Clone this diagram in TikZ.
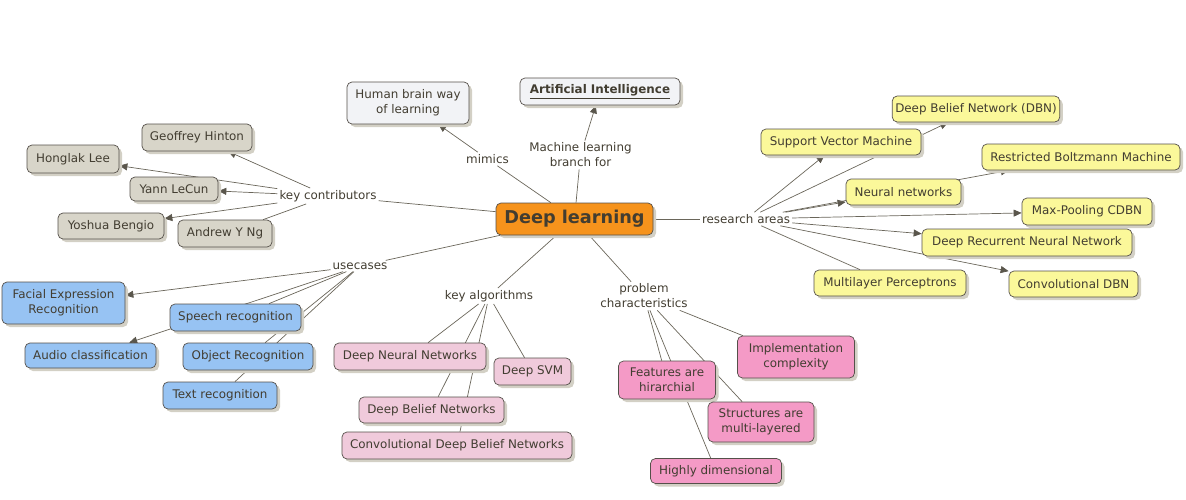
\documentclass[tikz,border=0pt]{standalone}
\usepackage{fontspec}
\setmainfont{DejaVu Sans}
\usetikzlibrary{shadows,arrows.meta,backgrounds}
\definecolor{txt}{HTML}{423D31}
\definecolor{bdr}{HTML}{55504A}
\definecolor{lnk}{HTML}{6A665A}
\definecolor{arrc}{HTML}{5A564C}
\definecolor{shd}{HTML}{D3D0C5}
\definecolor{cgray}{HTML}{D8D5C9}
\definecolor{cyel}{HTML}{FBF89A}
\definecolor{cblue}{HTML}{97C3F3}
\definecolor{cpinkl}{HTML}{F0CADB}
\definecolor{cpink}{HTML}{F49AC6}
\definecolor{corange}{HTML}{F6931C}
\definecolor{cwhite}{HTML}{F2F3F6}
\newcommand{\fsz}{\fontsize{11.9}{15}\selectfont}
\begin{document}
\begin{tikzpicture}[x=1pt,y=-1pt,
  concept/.style={rectangle, rounded corners=5pt, draw=bdr, line width=0.7pt, text=txt,
    font=\fsz, inner xsep=3pt, inner ysep=2pt, align=center,
    drop shadow={shadow xshift=3pt,shadow yshift=-3pt,fill=shd,opacity=1}},
  box/.style 2 args={concept, minimum width=#1, minimum height=#2},
  graybox/.style={fill=cgray},
  yelbox/.style={fill=cyel},
  bluebox/.style={fill=cblue},
  pinklbox/.style={fill=cpinkl},
  pinkbox/.style={fill=cpink},
  whitebox/.style={fill=cwhite},
  lbl/.style={text=txt, font=\fsz, inner sep=2pt, align=center},
  link/.style={draw=lnk, line width=0.7pt},
  arr/.style={link, -{Triangle[length=8pt,width=7pt,color=arrc]}}
]
\useasboundingbox (0,0) rectangle (1186,499);

% central
\node[box={157pt}{32pt}, fill=corange, font=\bfseries\fontsize{17.7}{20}\selectfont] (dl) at (574.5,219) {Deep learning};

% top
\node[box={122pt}{42pt}, whitebox] (hb) at (408,103) {Human brain way\\of learning};
\node[box={160pt}{27pt}, whitebox] (ai) at (600,91.5) {\textbf{\underline{Artificial Intelligence}}};
\node[lbl] (mimics) at (487.5,159) {mimics};
\node[lbl] (mlb) at (580.5,155) {Machine learning\\branch for};

% contributors
\node[lbl] (kc) at (328,196) {key contributors};
\node[box={110pt}{27pt}, graybox] (hinton) at (197,137.5) {Geoffrey Hinton};
\node[box={92pt}{28pt}, graybox] (honglak) at (73,159) {Honglak Lee};
\node[box={88pt}{24pt}, graybox] (lecun) at (174,189) {Yann LeCun};
\node[box={106pt}{26pt}, graybox] (bengio) at (111,226) {Yoshua Bengio};
\node[box={94pt}{27pt}, graybox] (ng) at (225,233.5) {Andrew Y Ng};

% research areas
\node[lbl] (ra) at (746,219) {research areas};
\node[box={160pt}{26pt}, yelbox] (svm) at (841,142) {Support Vector Machine};
\node[box={162pt}{26pt}, yelbox] (dbn) at (976,109) {Deep Belief Network (DBN)};
\node[box={198pt}{26pt}, yelbox] (rbm) at (1081,157) {Restricted Boltzmann Machine};
\node[box={115pt}{26pt}, yelbox] (nn) at (903.5,192) {Neural networks};
\node[box={130pt}{27pt}, yelbox] (mp) at (1087,211.5) {Max-Pooling CDBN};
\node[box={210pt}{27pt}, yelbox] (drnn) at (1027,242.5) {Deep Recurrent Neural Network};
\node[box={152pt}{26pt}, yelbox] (mlp) at (890,283) {Multilayer Perceptrons};
\node[box={129pt}{26pt}, yelbox] (cdbn) at (1073.5,284) {Convolutional DBN};

% usecases
\node[lbl] (uc) at (360,266) {usecases};
\node[box={123pt}{42pt}, bluebox] (facial) at (63.5,303) {Facial Expression\\Recognition};
\node[box={131pt}{27pt}, bluebox] (speech) at (235.5,317.5) {Speech recognition};
\node[box={131pt}{25pt}, bluebox] (audio) at (90.5,355.5) {Audio classification};
\node[box={130pt}{27pt}, bluebox] (object) at (248,356.5) {Object Recognition};
\node[box={114pt}{27pt}, bluebox] (textr) at (220,395.5) {Text recognition};

% key algorithms
\node[lbl] (ka) at (489,296) {key algorithms};
\node[box={152pt}{27pt}, pinklbox] (dnn) at (410,356.5) {Deep Neural Networks};
\node[box={77pt}{27pt}, pinklbox] (dsvm) at (532.5,371.5) {Deep SVM};
\node[box={145pt}{26pt}, pinklbox] (dbnw) at (431.5,410) {Deep Belief Networks};
\node[box={230pt}{27pt}, pinklbox] (cdbnw) at (457,445.5) {Convolutional Deep Belief Networks};

% problem characteristics
\node[lbl] (pc) at (644,296) {problem\\characteristics};
\node[box={97pt}{38pt}, pinkbox] (feat) at (667,380) {Features are\\hirarchial};
\node[box={117pt}{42pt}, pinkbox] (impl) at (796,357) {Implementation\\complexity};
\node[box={106pt}{40pt}, pinkbox] (struct) at (761,422) {Structures are\\multi-layered};
\node[box={131pt}{25pt}, pinkbox] (high) at (716,471) {Highly dimensional};

\begin{scope}[on background layer]
  \draw[link] (dl) -- (mimics);
  \draw[arr] (mimics) -- (hb);
  \draw[link] (dl) -- (mlb);
  \draw[arr] (mlb) -- (ai);
  \draw[link] (dl) -- (kc);
  \draw[arr] (kc) -- (hinton);
  \draw[arr] (kc) -- (honglak);
  \draw[arr] (kc) -- (lecun);
  \draw[arr] (kc) -- (bengio);
  \draw[link] (kc) -- (ng);
  \draw[link] (dl) -- (ra);
  \draw[arr] (ra) -- (svm);
  \draw[arr] (ra) -- (dbn);
  \draw[arr] (ra) -- (nn);
  \draw[arr] (ra) -- (rbm);
  \draw[arr] (ra) -- (mp);
  \draw[arr] (ra) -- (drnn);
  \draw[arr] (ra) -- (cdbn);
  \draw[link] (ra) -- (mlp);
  \draw[link] (dl) -- (uc);
  \draw[arr] (uc) -- (facial);
  \draw[arr] (uc) -- (audio);
  \draw[link] (uc) -- (speech);
  \draw[link] (uc) -- (object);
  \draw[link] (uc) -- (textr);
  \draw[link] (dl) -- (ka);
  \draw[link] (ka) -- (dnn);
  \draw[link] (ka) -- (dsvm);
  \draw[link] (ka) -- (dbnw);
  \draw[link] (ka) -- (cdbnw);
  \draw[link] (dl) -- (pc);
  \draw[link] (pc) -- (feat);
  \draw[link] (pc) -- (impl);
  \draw[link] (pc) -- (struct);
  \draw[link] (pc) -- (high);
\end{scope}
\end{tikzpicture}
\end{document}
